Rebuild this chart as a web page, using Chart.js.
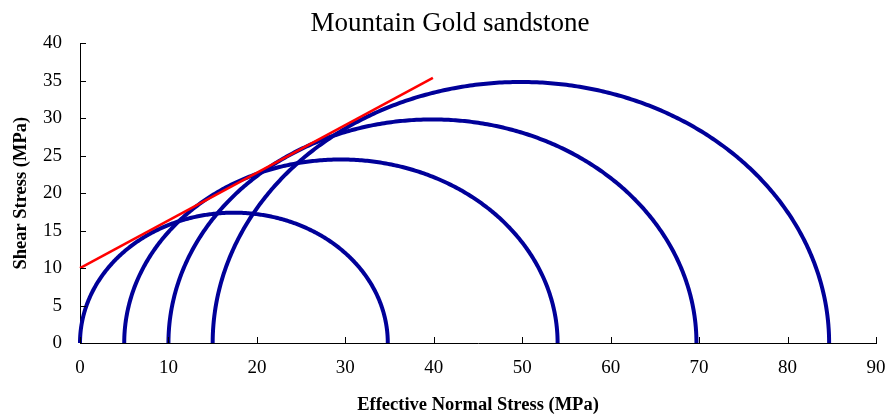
<!DOCTYPE html>
<html lang="en">
<head>
    <meta charset="UTF-8">
    <title>Mountain Gold sandstone</title>
    <script src="https://cdn.jsdelivr.net/npm/chart.js"></script>
    <style>
        html, body { margin: 0; padding: 0; background: #fff; }
        #wrap { width: 890px; height: 416px; }
    </style>
</head>
<body>
    <div id="wrap"><canvas id="mohrChart" width="890" height="416"></canvas></div>

    <script>
        // Principal effective stresses for each test (MPa)
        const sigma3 = [0, 5, 10, 15];
        const sigma1 = [34.8, 54.0, 69.7, 84.7];

        // Failure envelope end points
        const envelopeX = [0, 39.9];
        const envelopeY = [10, 35.4];

        const xTicks = [0, 10, 20, 30, 40, 50, 60, 70, 80, 90];
        const yTicks = [0, 5, 10, 15, 20, 25, 30, 35, 40];

        // Build a Mohr semicircle from the two principal stresses
        function mohrCircle(s3, s1) {
            var c = (s1 + s3) / 2, r = (s1 - s3) / 2, pts = [];
            for (var i = 0; i <= 180; i++) {
                var a = Math.PI - i * Math.PI / 180;
                pts.push({ x: c + r * Math.cos(a), y: r * Math.sin(a) });
            }
            return pts;
        }

        var datasets = sigma3.map(function (s3, i) {
            return {
                label: 'Test ' + (i + 1),
                data: mohrCircle(s3, sigma1[i]),
                showLine: true,
                borderColor: '#000099',
                borderWidth: 4,
                pointRadius: 0,
                tension: 0.01,   // avoids the fast path merging near-vertical points
                clip: 6,
                order: 1
            };
        });
        datasets.push({
            label: 'Envelope',
            data: envelopeX.map(function (x, i) { return { x: x, y: envelopeY[i] }; }),
            showLine: true,
            borderColor: '#ff0000',
            borderWidth: 2.5,
            pointRadius: 0,
            clip: 6,
            order: 0
        });

        // Short tick marks pointing into the plot area
        var innerTicks = {
            id: 'innerTicks',
            afterDraw: function (chart) {
                var ctx = chart.ctx, xs = chart.scales.x, ys = chart.scales.y;
                ctx.save();
                ctx.strokeStyle = '#000';
                ctx.lineWidth = 1;
                ctx.beginPath();
                xTicks.forEach(function (v) {
                    var px = Math.round(xs.getPixelForValue(v)) + 0.5;
                    ctx.moveTo(px, ys.bottom);
                    ctx.lineTo(px, ys.bottom - 6);
                });
                yTicks.forEach(function (v) {
                    var py = Math.round(ys.getPixelForValue(v)) + 0.5;
                    ctx.moveTo(xs.left, py);
                    ctx.lineTo(xs.left + 6, py);
                });
                ctx.stroke();
                ctx.restore();
            }
        };

        var serif = "'Liberation Serif', 'Times New Roman', serif";

        new Chart(document.getElementById('mohrChart'), {
            type: 'scatter',
            data: { datasets: datasets },
            options: {
                responsive: false,
                animation: false,
                layout: { padding: { left: 10, right: 0, top: 0, bottom: 0 } },
                plugins: {
                    legend: { display: false },
                    tooltip: { enabled: false },
                    title: {
                        display: true,
                        text: 'Mountain Gold sandstone',
                        color: '#000',
                        font: { family: serif, size: 27, weight: 'normal' },
                        padding: { top: 8, bottom: 3 }
                    }
                },
                scales: {
                    x: {
                        type: 'linear',
                        min: 0,
                        max: 90,
                        afterFit: function (s) { s.height = 73; s.paddingRight = 14; },
                        afterBuildTicks: function (s) { s.ticks = xTicks.map(function (v) { return { value: v }; }); },
                        grid: { drawOnChartArea: false, drawTicks: false },
                        border: { display: true, color: '#000', width: 1 },
                        ticks: { color: '#000', padding: 14, maxRotation: 0, font: { family: serif, size: 19 } },
                        title: {
                            display: true,
                            text: 'Effective Normal Stress (MPa)',
                            color: '#000',
                            font: { family: serif, size: 18.5, weight: 'bold' },
                            padding: { top: 0, bottom: 0 }
                        }
                    },
                    y: {
                        type: 'linear',
                        min: 0,
                        max: 40,
                        afterFit: function (s) { s.width = 70; },
                        afterBuildTicks: function (s) { s.ticks = yTicks.map(function (v) { return { value: v }; }); },
                        grid: { drawOnChartArea: false, drawTicks: false },
                        border: { display: true, color: '#000', width: 1 },
                        ticks: { color: '#000', padding: 18, font: { family: serif, size: 19 } },
                        title: {
                            display: true,
                            text: 'Shear Stress (MPa)',
                            color: '#000',
                            font: { family: serif, size: 18.5, weight: 'bold' },
                            padding: { top: 0, bottom: 0 }
                        }
                    }
                }
            },
            plugins: [innerTicks]
        });
    </script>
</body>
</html>
